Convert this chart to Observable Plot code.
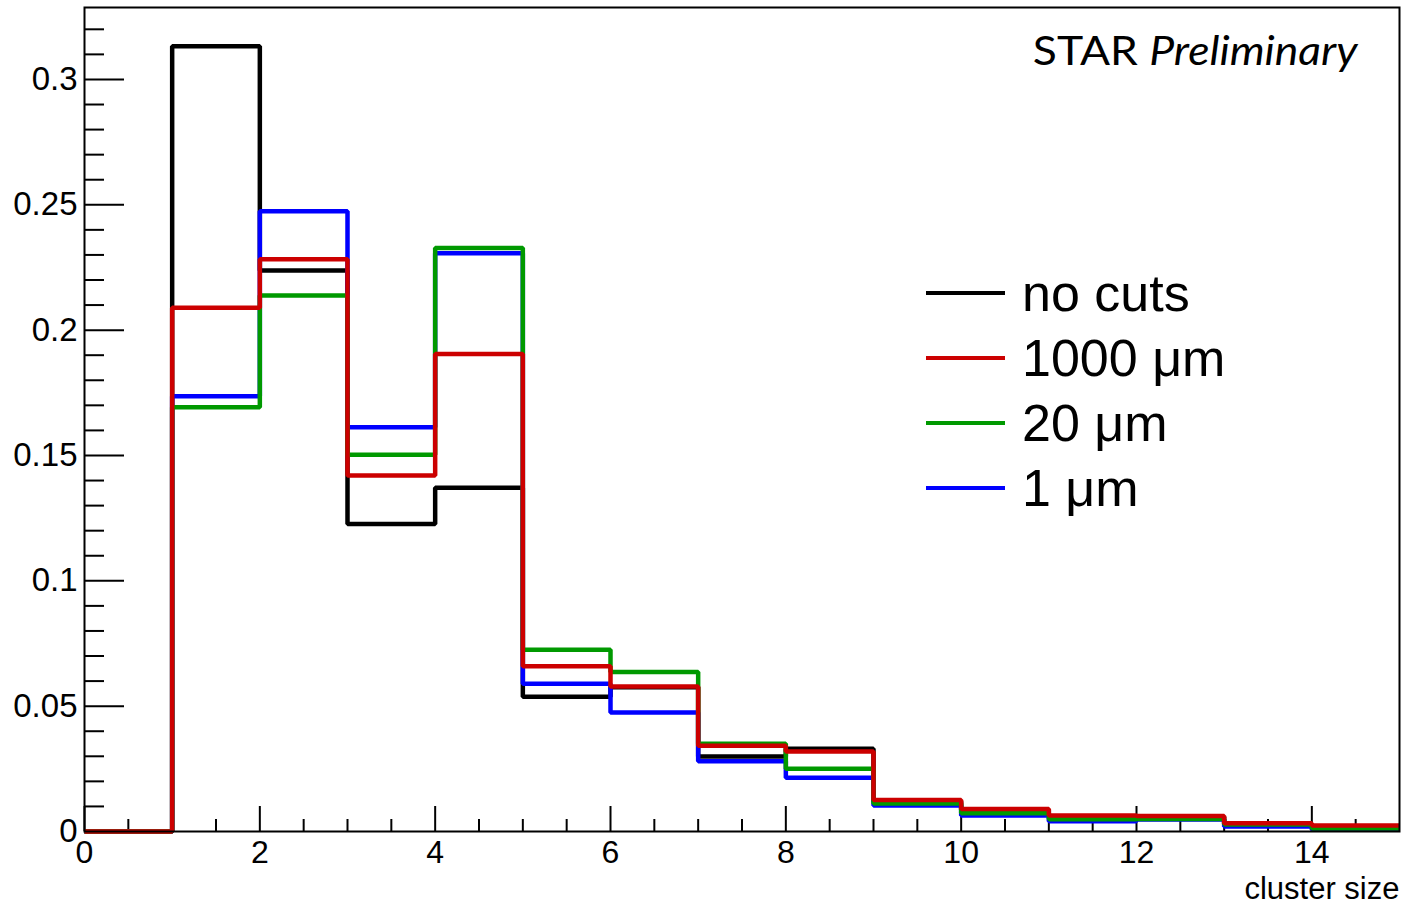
<!DOCTYPE html>
<html><head><meta charset="utf-8">
<script src="https://cdn.jsdelivr.net/npm/d3@7"></script>
<script src="https://cdn.jsdelivr.net/npm/@observablehq/plot@0.6"></script>
<style>
body{margin:0;background:#fff}
#wrap{position:relative;width:1407px;height:905px;font-family:"Liberation Sans",Arial,sans-serif;color:#000;overflow:hidden}
.star{position:absolute;right:49px;top:22px;font-family:Lato,"Open Sans",sans-serif;font-size:40px;line-height:56px;white-space:nowrap;transform:scaleX(1.11);transform-origin:right center}
.lg{position:absolute;left:1022px;font-size:52px;line-height:60px;white-space:nowrap}
.sw{position:absolute;left:926px;width:79px}
</style></head><body><div id="wrap"></div>
<script>
// bin lower edges (cluster size), bins of width 1
const binLow = [0,1,2,3,4,5,6,7,8,9,10,11,12,13,14];
const xMax = 15;
const seriesNames = ["no cuts","1000 \u03bcm","20 \u03bcm","1 \u03bcm"];
const seriesColors = ["#000000","#cc0000","#009900","#0000ff"];
const noCuts  = [0,0.3132,0.2238,0.1227,0.1371,0.0538,0.0575,0.0299,0.0330,0.0120,0.0085,0.0060,0.0058,0.0030,0.0015];
const cut1000 = [0,0.2089,0.2283,0.1420,0.1905,0.0659,0.0578,0.0342,0.0319,0.0126,0.0090,0.0064,0.0062,0.0033,0.0024];
const cut20   = [0,0.1692,0.2138,0.1503,0.2328,0.0725,0.0636,0.0350,0.0250,0.0112,0.0073,0.0049,0.0050,0.0028,0.0012];
const cut1    = [0,0.1736,0.2474,0.1613,0.2307,0.0589,0.0475,0.0280,0.0214,0.0104,0.0064,0.0041,0.0048,0.0020,0.0007];
const yMajorTicks = [0,0.05,0.1,0.15,0.2,0.25,0.3];
const yMajorLabels = ["0","0.05","0.1","0.15","0.2","0.25","0.3"];
const yMinorTicks = [0.01,0.02,0.03,0.04,0.06,0.07,0.08,0.09,0.11,0.12,0.13,0.14,0.16,0.17,0.18,0.19,0.21,0.22,0.23,0.24,0.26,0.27,0.28,0.29,0.31,0.32];
const xMajorTicks = [0,2,4,6,8,10,12,14];
const xMajorLabels = ["0","2","4","6","8","10","12","14"];
const xMinorTicks = [0.5,1,1.5,2.5,3,3.5,4.5,5,5.5,6.5,7,7.5,8.5,9,9.5,10.5,11,11.5,12.5,13,13.5,14.5];
const yTop = 0.3287;

function steps(vals, name){
  const pts = binLow.map((x,i)=>({x, y: vals[i], s: name}));
  pts.push({x: xMax, y: vals[vals.length-1], s: name});
  return pts;
}
const allSeries = [noCuts, cut1000, cut20, cut1];
const drawOrder = [0,3,2,1];

const lineMarks = drawOrder.map(i => Plot.line(steps(allSeries[i], seriesNames[i]), {
  x:"x", y:"y", curve:"step-after", stroke: seriesColors[i], strokeWidth: 4.5, strokeLinejoin:"miter", strokeLinecap:"butt"
}));

const chart = Plot.plot({
  width: 1407, height: 905,
  marginLeft: 84, marginTop: 7, marginRight: 8, marginBottom: 74,
  style: {fontFamily: '"Liberation Sans", Arial, sans-serif', fontSize: "33px", background: "#fff", color: "#000", overflow: "visible"},
  x: {domain: [0, xMax]},
  y: {domain: [0, yTop]},
  marks: [
    Plot.axisY(yMinorTicks, {tickSize: -20, strokeWidth: 2, tickFormat: () => "", label: null}),
    Plot.axisY(yMajorTicks, {tickSize: -40, strokeWidth: 2, tickFormat: () => "", label: null}),
    Plot.axisY(yMajorTicks, {tickSize: 0, tickPadding: 7, tickFormat: d => yMajorLabels[yMajorTicks.indexOf(d)], label: null, fontSize: 33}),
    Plot.axisX(xMinorTicks, {tickSize: -12, strokeWidth: 2, tickFormat: () => "", label: null}),
    Plot.axisX(xMajorTicks, {tickSize: -25, strokeWidth: 2, tickFormat: () => "", label: null}),
    Plot.axisX(xMajorTicks, {tickSize: 0, tickPadding: 9, tickFormat: d => xMajorLabels[xMajorTicks.indexOf(d)], label: null, fontSize: 32}),
    ...lineMarks,
    Plot.frame({stroke: "#000", strokeWidth: 2}),
    Plot.text(["cluster size"], {frameAnchor: "bottom-right", textAnchor: "end", lineAnchor: "middle", dy: 58, dx: 0, fontSize: 31})
  ]
});
const wrap = document.getElementById("wrap");
wrap.appendChild(chart);

const star = document.createElement("div");
star.className = "star";
star.innerHTML = 'STAR <i>Preliminary</i>';
wrap.appendChild(star);

const legendY = [293, 358, 423, 488];
const legendW = [3.5, 4.5, 3.5, 4.5];
seriesNames.forEach((n,i) => {
  const sw = document.createElement("div");
  sw.className = "sw";
  sw.style.top = (legendY[i] - legendW[i]/2) + "px";
  sw.style.height = legendW[i] + "px";
  sw.style.background = seriesColors[i];
  wrap.appendChild(sw);
  const t = document.createElement("div");
  t.className = "lg";
  t.style.top = (legendY[i] - 30) + "px";
  t.textContent = n;
  wrap.appendChild(t);
});
</script></body></html>
